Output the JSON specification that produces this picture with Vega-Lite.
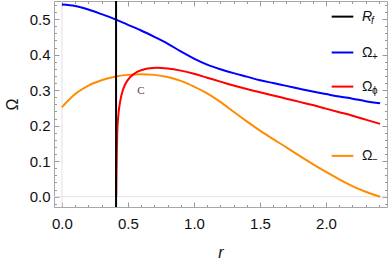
{
  "$schema": "https://vega.github.io/schema/vega-lite/v6.json",
  "width": 333,
  "height": 206,
  "autosize": {"type": "none"},
  "padding": {"left": 54, "top": 1, "right": 1, "bottom": 52},
  "background": "white",
  "config": {
    "view": {"stroke": "#a8a8a8", "strokeWidth": 1},
    "axis": {"labelFont": "Liberation Sans", "labelFontSize": 15, "labelColor": "#111", "titleFont": "Liberation Sans", "titleColor": "#111", "domain": false, "grid": false, "tickColor": "#999999", "tickWidth": 1}
  },
  "datasets": {
    "blue": [
      {"r": 0, "v": 0.541}, {"r": 0.1, "v": 0.537}, {"r": 0.2, "v": 0.527}, {"r": 0.3, "v": 0.514},
      {"r": 0.4, "v": 0.5}, {"r": 0.5, "v": 0.484}, {"r": 0.6, "v": 0.468}, {"r": 0.7, "v": 0.45},
      {"r": 0.8, "v": 0.431}, {"r": 0.9, "v": 0.409}, {"r": 1.0, "v": 0.389}, {"r": 1.1, "v": 0.372},
      {"r": 1.2, "v": 0.359}, {"r": 1.3, "v": 0.348}, {"r": 1.4, "v": 0.338}, {"r": 1.5, "v": 0.328},
      {"r": 1.6, "v": 0.32}, {"r": 1.7, "v": 0.312}, {"r": 1.8, "v": 0.304}, {"r": 1.9, "v": 0.296},
      {"r": 2.0, "v": 0.289}, {"r": 2.1, "v": 0.282}, {"r": 2.2, "v": 0.276}, {"r": 2.3, "v": 0.269},
      {"r": 2.41, "v": 0.263}
    ],
    "red": [
      {"r": 0.411, "v": 0.0}, {"r": 0.413, "v": 0.06}, {"r": 0.416, "v": 0.13}, {"r": 0.419, "v": 0.18},
      {"r": 0.427, "v": 0.228}, {"r": 0.44, "v": 0.266}, {"r": 0.464, "v": 0.303}, {"r": 0.5, "v": 0.329},
      {"r": 0.55, "v": 0.347}, {"r": 0.6, "v": 0.356}, {"r": 0.65, "v": 0.361}, {"r": 0.72, "v": 0.363},
      {"r": 0.8, "v": 0.361}, {"r": 0.9, "v": 0.355}, {"r": 1.0, "v": 0.346}, {"r": 1.1, "v": 0.335},
      {"r": 1.2, "v": 0.324}, {"r": 1.3, "v": 0.313}, {"r": 1.4, "v": 0.303}, {"r": 1.5, "v": 0.294},
      {"r": 1.6, "v": 0.285}, {"r": 1.7, "v": 0.276}, {"r": 1.8, "v": 0.267}, {"r": 1.9, "v": 0.258},
      {"r": 2.0, "v": 0.248}, {"r": 2.1, "v": 0.238}, {"r": 2.2, "v": 0.228}, {"r": 2.3, "v": 0.217},
      {"r": 2.41, "v": 0.205}
    ],
    "orange": [
      {"r": 0, "v": 0.252}, {"r": 0.1, "v": 0.289}, {"r": 0.2, "v": 0.313}, {"r": 0.3, "v": 0.328},
      {"r": 0.4, "v": 0.338}, {"r": 0.5, "v": 0.343}, {"r": 0.6, "v": 0.345}, {"r": 0.7, "v": 0.343},
      {"r": 0.8, "v": 0.337}, {"r": 0.9, "v": 0.326}, {"r": 1.0, "v": 0.31}, {"r": 1.1, "v": 0.291},
      {"r": 1.2, "v": 0.267}, {"r": 1.3, "v": 0.239}, {"r": 1.4, "v": 0.212}, {"r": 1.5, "v": 0.186},
      {"r": 1.6, "v": 0.162}, {"r": 1.7, "v": 0.139}, {"r": 1.8, "v": 0.115}, {"r": 1.9, "v": 0.092},
      {"r": 2.0, "v": 0.07}, {"r": 2.1, "v": 0.049}, {"r": 2.2, "v": 0.03}, {"r": 2.3, "v": 0.014},
      {"r": 2.41, "v": 0.0}
    ],
    "rf": [{"r": 0.41, "v": -0.029, "v2": 0.551}],
    "legend": [
      {"name": "R", "sub": "f", "series": "Rf", "y": 0.507, "x1": 2.043, "x2": 2.207, "xt": 2.272},
      {"name": "Ω", "sub": "+", "series": "plus", "y": 0.406, "x1": 2.043, "x2": 2.207, "xt": 2.272},
      {"name": "Ω", "sub": "ϕ", "series": "phi", "y": 0.31, "x1": 2.043, "x2": 2.207, "xt": 2.272},
      {"name": "Ω", "sub": "−", "series": "minus", "y": 0.115, "x1": 2.043, "x2": 2.207, "xt": 2.272}
    ],
    "label": [{"r": 0.598, "v": 0.299, "t": "C"}]
  },
  "resolve": {"axis": {"x": "independent", "y": "independent"}},
  "layer": [
    {
      "data": {"values": [{"g": 0}]},
      "mark": {"type": "rule", "color": "#e2e2e2", "strokeWidth": 1},
      "encoding": {"y": {"field": "g", "type": "quantitative", "axis": null, "scale": {"domain": [-0.029, 0.551], "nice": false, "zero": false}}}
    },
    {
      "data": {"values": [{"g": 0}]},
      "mark": {"type": "rule", "color": "#e2e2e2", "strokeWidth": 1},
      "encoding": {"x": {"field": "g", "type": "quantitative", "axis": null, "scale": {"domain": [-0.06, 2.462], "nice": false, "zero": false}}}
    },
    {
      "data": {"name": "orange"},
      "mark": {"type": "line", "color": "#ff8c00", "strokeWidth": 2, "interpolate": "monotone"},
      "encoding": {
        "x": {"field": "r", "type": "quantitative", "scale": {"domain": [-0.06, 2.462], "nice": false, "zero": false},
          "axis": {"orient": "bottom", "values": [0.1,0.2,0.3,0.4,0.6,0.7,0.8,0.9,1.1,1.2,1.3,1.4,1.6,1.7,1.8,1.9,2.1,2.2,2.3,2.4], "labels": false, "tickSize": -2.5, "title": null}},
        "y": {"field": "v", "type": "quantitative", "scale": {"domain": [-0.029, 0.551], "nice": false, "zero": false},
          "axis": {"orient": "left", "values": [-0.02,0.02,0.04,0.06,0.08,0.12,0.14,0.16,0.18,0.22,0.24,0.26,0.28,0.32,0.34,0.36,0.38,0.42,0.44,0.46,0.48,0.52,0.54], "labels": false, "tickSize": -2.5, "title": null}}
      }
    },
    {
      "data": {"name": "red"},
      "mark": {"type": "line", "color": "#ff0000", "strokeWidth": 2, "interpolate": "monotone"},
      "encoding": {
        "x": {"field": "r", "type": "quantitative",
          "axis": {"orient": "bottom", "values": [0, 0.5, 1, 1.5, 2], "labels": false, "tickSize": -5, "title": null}},
        "y": {"field": "v", "type": "quantitative",
          "axis": {"orient": "left", "values": [0, 0.1, 0.2, 0.3, 0.4, 0.5], "labels": false, "tickSize": -5, "title": null}}
      }
    },
    {
      "data": {"name": "blue"},
      "mark": {"type": "line", "color": "#0000ff", "strokeWidth": 2, "interpolate": "monotone"},
      "encoding": {
        "x": {"field": "r", "type": "quantitative",
          "axis": {"orient": "bottom", "values": [0, 0.5, 1, 1.5, 2], "format": ".1f", "ticks": false, "labelPadding": 9, "title": "r", "titleFont": "Liberation Sans", "titleFontStyle": "italic", "titleFontWeight": "normal", "titleFontSize": 16, "titlePadding": 13}},
        "y": {"field": "v", "type": "quantitative",
          "axis": {"orient": "left", "values": [0, 0.1, 0.2, 0.3, 0.4, 0.5], "format": ".1f", "ticks": false, "labelPadding": 4, "title": "Ω", "titleFontWeight": "normal", "titleFontSize": 16, "titlePadding": 9}}
      }
    },
    {
      "data": {"name": "rf"},
      "mark": {"type": "rule", "color": "#000000", "strokeWidth": 2},
      "encoding": {
        "x": {"field": "r", "type": "quantitative",
          "axis": {"orient": "top", "values": [0, 0.5, 1, 1.5, 2], "labels": false, "tickSize": -5, "title": null}},
        "y": {"field": "v", "type": "quantitative",
          "axis": {"orient": "right", "values": [0, 0.1, 0.2, 0.3, 0.4, 0.5], "labels": false, "tickSize": -5, "title": null}},
        "y2": {"field": "v2"}
      }
    },
    {
      "data": {"name": "legend"},
      "mark": {"type": "rule", "strokeWidth": 2},
      "encoding": {
        "x": {"field": "x1", "type": "quantitative",
          "axis": {"orient": "top", "values": [0.1,0.2,0.3,0.4,0.6,0.7,0.8,0.9,1.1,1.2,1.3,1.4,1.6,1.7,1.8,1.9,2.1,2.2,2.3,2.4], "labels": false, "tickSize": -2.5, "title": null}},
        "x2": {"field": "x2"},
        "y": {"field": "y", "type": "quantitative",
          "axis": {"orient": "right", "values": [-0.02,0.02,0.04,0.06,0.08,0.12,0.14,0.16,0.18,0.22,0.24,0.26,0.28,0.32,0.34,0.36,0.38,0.42,0.44,0.46,0.48,0.52,0.54], "labels": false, "tickSize": -2.5, "title": null}},
        "color": {"field": "series", "type": "nominal", "legend": null,
          "scale": {"domain": ["Rf", "plus", "phi", "minus"], "range": ["#000000", "#0000ff", "#ff0000", "#ff8c00"]}}
      }
    },
    {
      "data": {"name": "legend"},
      "transform": [{"filter": "datum.series !== 'Rf'"}],
      "mark": {"type": "text", "align": "left", "baseline": "middle", "font": "Liberation Sans", "fontSize": 14, "color": "#111"},
      "encoding": {
        "x": {"field": "xt", "type": "quantitative", "axis": null},
        "y": {"field": "y", "type": "quantitative", "axis": null},
        "text": {"field": "name"}
      }
    },
    {
      "data": {"name": "legend"},
      "transform": [{"filter": "datum.series !== 'Rf'"}],
      "mark": {"type": "text", "align": "left", "baseline": "middle", "font": "Liberation Sans", "fontSize": 10, "color": "#111", "dx": 10, "dy": 4},
      "encoding": {
        "x": {"field": "xt", "type": "quantitative", "axis": null},
        "y": {"field": "y", "type": "quantitative", "axis": null},
        "text": {"field": "sub"}
      }
    },
    {
      "data": {"name": "legend"},
      "transform": [{"filter": "datum.series === 'Rf'"}],
      "mark": {"type": "text", "align": "left", "baseline": "middle", "font": "Liberation Sans", "fontStyle": "italic", "fontSize": 14, "color": "#111"},
      "encoding": {
        "x": {"field": "xt", "type": "quantitative", "axis": null},
        "y": {"field": "y", "type": "quantitative", "axis": null},
        "text": {"field": "name"}
      }
    },
    {
      "data": {"name": "legend"},
      "transform": [{"filter": "datum.series === 'Rf'"}],
      "mark": {"type": "text", "align": "left", "baseline": "middle", "font": "Liberation Sans", "fontStyle": "italic", "fontSize": 10, "color": "#111", "dx": 9, "dy": 4},
      "encoding": {
        "x": {"field": "xt", "type": "quantitative", "axis": null},
        "y": {"field": "y", "type": "quantitative", "axis": null},
        "text": {"field": "sub"}
      }
    },
    {
      "data": {"name": "label"},
      "mark": {"type": "text", "align": "center", "baseline": "middle", "font": "Liberation Serif", "fontSize": 11, "color": "#444"},
      "encoding": {
        "x": {"field": "r", "type": "quantitative", "axis": null},
        "y": {"field": "v", "type": "quantitative", "axis": null},
        "text": {"field": "t"}
      }
    }
  ]
}
